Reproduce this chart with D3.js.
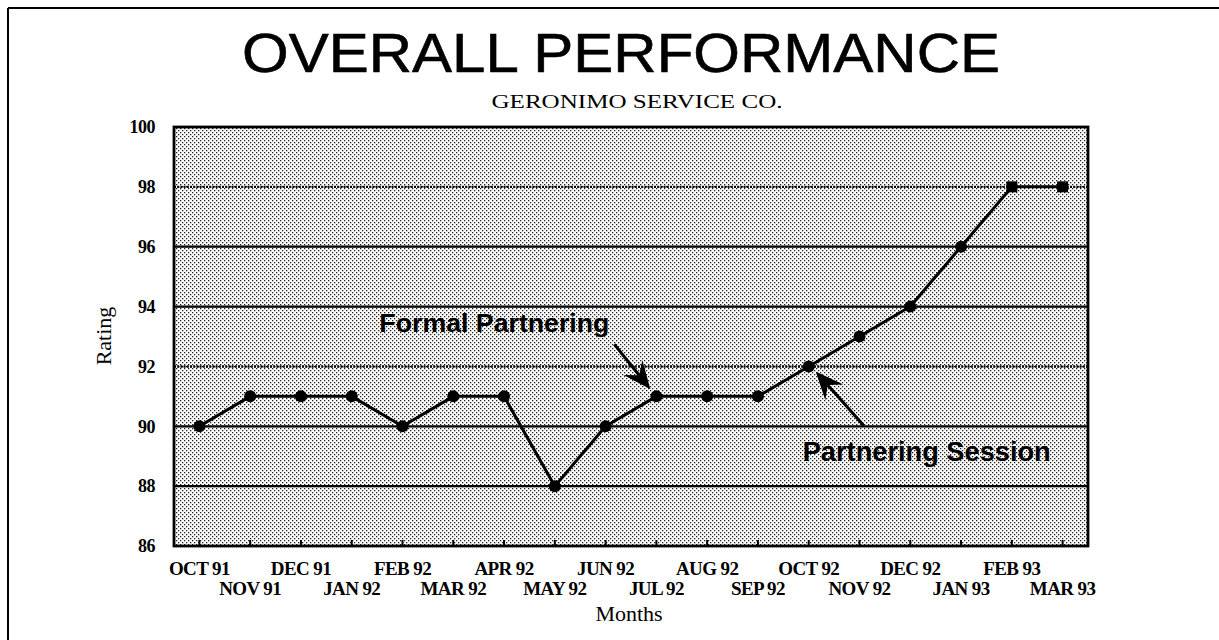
<!DOCTYPE html>
<html><head><meta charset="utf-8">
<script src="https://cdn.jsdelivr.net/npm/d3@7"></script>
<style>body{margin:0;background:#fff}svg{display:block}</style>
</head><body>
<script>
const months = ["OCT 91","NOV 91","DEC 91","JAN 92","FEB 92","MAR 92","APR 92","MAY 92","JUN 92","JUL 92","AUG 92","SEP 92","OCT 92","NOV 92","DEC 92","JAN 93","FEB 93","MAR 93"];
const ratings = [90,91,91,91,90,91,91,88,90,91,91,91,92,93,94,96,98,98];
const markerShapes = ["circle","circle","circle","circle","circle","circle","circle","circle","circle","circle","circle","circle","circle","circle","circle","circle","square","square"];
const yTicks = [86,88,90,92,94,96,98,100];
const dottedGrid = [92,98];
const solidGrid = [88,90,94,96];
const annotations = [
  {text:"Formal Partnering", month:"JUL 92", value:91},
  {text:"Partnering Session", month:"OCT 92", value:92}
];

const W=1219,H=640;
const svg=d3.select("body").append("svg").attr("width",W).attr("height",H);
const L=174,R=1088,T=127,B=546;

const defs=svg.append("defs");
const pat=defs.append("pattern").attr("id","dots").attr("patternUnits","userSpaceOnUse").attr("width",4).attr("height",4);
pat.append("rect").attr("width",4).attr("height",4).attr("fill","#fff");
pat.append("rect").attr("x",0).attr("y",0).attr("width",1.3).attr("height",1.3).attr("fill","#222");
pat.append("rect").attr("x",2).attr("y",2).attr("width",1.3).attr("height",1.3).attr("fill","#222");

// outer frame
svg.append("line").attr("x1",8).attr("x2",W).attr("y1",8).attr("y2",8).attr("stroke","#000").attr("stroke-width",2);
svg.append("line").attr("x1",8).attr("x2",8).attr("y1",8).attr("y2",H).attr("stroke","#000").attr("stroke-width",2);

const x=d3.scalePoint().domain(months).range([L,R]).padding(0.5);
const y=d3.scaleLinear().domain([86,100]).range([B,T]);

svg.append("rect").attr("x",L).attr("y",T).attr("width",R-L).attr("height",B-T).attr("fill","url(#dots)");

// gridlines
svg.selectAll(".gs").data(solidGrid).join("line")
  .attr("x1",L).attr("x2",R).attr("y1",d=>y(d)).attr("y2",d=>y(d))
  .attr("stroke","#000").attr("stroke-width",2.2);
svg.selectAll(".gd").data(dottedGrid).join("line")
  .attr("x1",L).attr("x2",R).attr("y1",d=>y(d)).attr("y2",d=>y(d))
  .attr("stroke","#000").attr("stroke-width",2.4).attr("stroke-dasharray","2,1.2");

// x ticks (inward)
svg.selectAll(".xt").data(months).join("line")
  .attr("x1",d=>x(d)).attr("x2",d=>x(d)).attr("y1",B).attr("y2",B-6)
  .attr("stroke","#000").attr("stroke-width",2);

// border
svg.append("rect").attr("x",L).attr("y",T).attr("width",R-L).attr("height",B-T)
  .attr("fill","none").attr("stroke","#000").attr("stroke-width",2.8);

// y labels
svg.selectAll(".yl").data(yTicks).join("text")
  .attr("x",155).attr("y",d=>y(d)).attr("dy","0.35em").attr("text-anchor","end")
  .attr("font-family","Liberation Serif").attr("font-weight","bold").attr("font-size",18)
  .attr("letter-spacing",-0.5)
  .text(d=>d);

// x labels
svg.selectAll(".xl").data(months).join("text")
  .attr("x",d=>x(d)).attr("y",(d,i)=>i%2===0?575:595).attr("text-anchor","middle")
  .attr("font-family","Liberation Serif").attr("font-weight","bold").attr("font-size",19)
  .attr("letter-spacing",-0.6)
  .text(d=>d);

// axis titles
svg.append("text").attr("x",629).attr("y",621).attr("text-anchor","middle")
  .attr("font-family","Liberation Serif").attr("font-size",22).text("Months");
svg.append("text").attr("transform","translate(111,336) rotate(-90)").attr("text-anchor","middle")
  .attr("font-family","Liberation Serif").attr("font-size",22).text("Rating");

// titles
svg.append("text").attr("x",621).attr("y",72).attr("text-anchor","middle")
  .attr("font-family","Liberation Sans").attr("font-size",55)
  .attr("stroke","#000").attr("stroke-width",0.6)
  .attr("textLength",758).attr("lengthAdjust","spacingAndGlyphs").text("OVERALL PERFORMANCE");
svg.append("text").attr("x",637).attr("y",108).attr("text-anchor","middle")
  .attr("font-family","Liberation Serif").attr("font-size",19)
  .attr("textLength",291).attr("lengthAdjust","spacingAndGlyphs").text("GERONIMO SERVICE CO.");

// line
const line=d3.line().x((d,i)=>x(months[i])).y(d=>y(d));
svg.append("path").datum(ratings).attr("d",line).attr("fill","none")
  .attr("stroke","#000").attr("stroke-width",3).attr("stroke-linejoin","round");

// markers
const pts=ratings.map((v,i)=>({m:months[i],v,s:markerShapes[i]}));
svg.selectAll(".mc").data(pts.filter(p=>p.s==="circle")).join("circle")
  .attr("cx",d=>x(d.m)).attr("cy",d=>y(d.v)).attr("r",6).attr("fill","#000");
svg.selectAll(".ms").data(pts.filter(p=>p.s==="square")).join("rect")
  .attr("x",d=>x(d.m)-5.5).attr("y",d=>y(d.v)-5.5).attr("width",11).attr("height",11).attr("fill","#000");

// annotations
function arrow(x1,y1,x2,y2){
  const g=svg.append("g");
  const ang=Math.atan2(y2-y1,x2-x1);
  const len=28, wid=12, notch=18;
  const bx=x2-len*Math.cos(ang), by=y2-len*Math.sin(ang);
  const nx=x2-notch*Math.cos(ang), ny=y2-notch*Math.sin(ang);
  const px=-Math.sin(ang), py=Math.cos(ang);
  g.append("line").attr("x1",x1).attr("y1",y1).attr("x2",nx).attr("y2",ny).attr("stroke","#000").attr("stroke-width",3);
  g.append("path").attr("d",`M${x2},${y2}L${bx+px*wid},${by+py*wid}L${nx},${ny}L${bx-px*wid},${by-py*wid}Z`).attr("fill","#000");
}
const a0=annotations[0], a1=annotations[1];
svg.append("text").attr("x",x(a0.month)-277).attr("y",y(a0.value)-64)
  .attr("font-family","Liberation Sans").attr("font-weight","bold").attr("font-size",26)
  .attr("textLength",230).attr("lengthAdjust","spacingAndGlyphs").text(a0.text);
arrow(x(a0.month)-42,y(a0.value)-52,x(a0.month)-6,y(a0.value)-7);
svg.append("text").attr("x",x(a1.month)-6).attr("y",y(a1.value)+95)
  .attr("font-family","Liberation Sans").attr("font-weight","bold").attr("font-size",27)
  .attr("textLength",248).attr("lengthAdjust","spacingAndGlyphs").text(a1.text);
arrow(x(a1.month)+55,y(a1.value)+59,x(a1.month)+7,y(a1.value)+5);
</script>
</body></html>
